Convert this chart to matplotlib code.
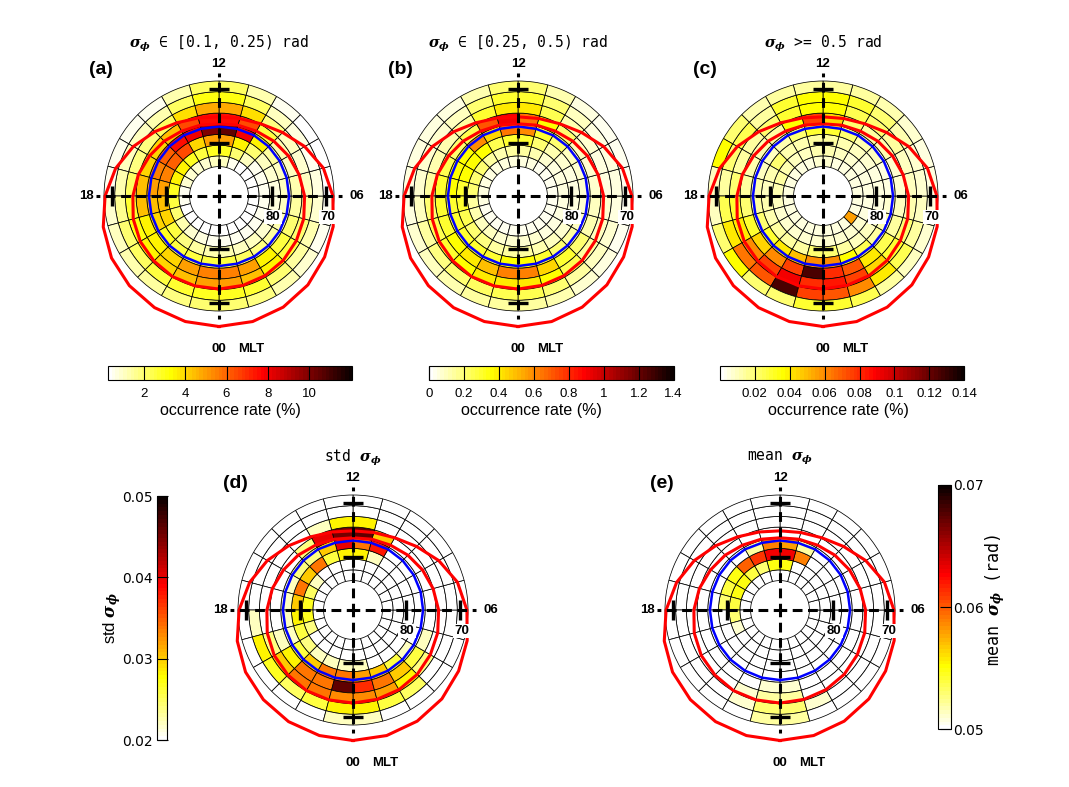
import numpy as np
import matplotlib.pyplot as plt
from matplotlib.colors import ListedColormap, Normalize
from matplotlib.cm import ScalarMappable

W, H = 1069, 787
plt.rcParams['mathtext.fontset'] = 'custom'
plt.rcParams['mathtext.it'] = 'DejaVu Serif:italic:bold'
plt.rcParams['mathtext.rm'] = 'DejaVu Serif'

# ---- grid: 8 rings of 2 deg MLat, 24 MLT hours ----
mlat_edges = [84.5, 82.5, 80.5, 78.5, 76.5, 74.5, 72.5, 70.5, 68.5]
mlt_hours = np.arange(24)

# occurrence rate (%) for 0.1 <= sigma < 0.25, ring 0 = poleward, columns = MLT 0..23
occ_a = [
    [0.3, 0.3, 0.3, 0.3, 0.3, 0.3, 0.3, 0.3, 0.3, 0.4, 0.6, 1.0, 1.0, 0.8, 0.8, 0.8, 0.8, 0.6, 0.5, 0.4, 0.3, 0.3, 0.3, 0.3],
    [0.6, 0.6, 0.5, 0.5, 0.5, 0.5, 0.5, 0.5, 0.6, 1.0, 2.0, 3.0, 3.0, 2.5, 3.0, 3.5, 3.5, 3.0, 2.5, 2.0, 1.2, 0.8, 0.7, 0.6],
    [1.2, 1.0, 1.0, 0.8, 0.8, 0.7, 0.7, 0.8, 1.0, 2.0, 3.5, 5.0, 5.0, 4.0, 6.5, 6.0, 5.5, 5.0, 4.5, 4.0, 2.5, 1.8, 1.5, 1.2],
    [2.5, 2.2, 1.8, 1.5, 1.2, 1.0, 1.0, 1.0, 1.5, 3.5, 8.0, 10.5, 10.0, 8.0, 7.5, 6.0, 5.5, 5.0, 4.5, 4.0, 3.0, 2.5, 2.5, 2.5],
    [5.5, 5.0, 3.5, 2.5, 2.0, 1.5, 1.2, 1.0, 1.2, 2.5, 6.5, 7.5, 7.5, 6.5, 4.5, 4.0, 4.0, 4.5, 4.5, 3.5, 3.5, 4.0, 5.0, 5.5],
    [5.0, 4.5, 3.5, 2.5, 2.0, 1.5, 1.0, 0.9, 1.0, 1.8, 3.8, 4.8, 4.8, 3.8, 2.2, 1.8, 1.8, 2.2, 2.8, 3.2, 3.5, 4.0, 4.5, 5.0],
    [3.0, 2.8, 2.0, 1.5, 1.2, 0.9, 0.7, 0.6, 0.7, 1.0, 2.2, 3.2, 3.2, 2.2, 1.2, 1.0, 1.0, 1.2, 1.6, 2.0, 2.2, 2.6, 2.8, 3.0],
    [2.0, 1.8, 1.2, 0.8, 0.6, 0.5, 0.4, 0.4, 0.4, 0.6, 1.2, 2.2, 2.2, 1.2, 0.6, 0.5, 0.5, 0.6, 0.8, 1.0, 1.2, 1.4, 1.8, 2.0],
]
# occurrence rate (%) for 0.25 <= sigma < 0.5
occ_b = [
    [0.04, 0.04, 0.04, 0.04, 0.04, 0.04, 0.04, 0.04, 0.04, 0.04, 0.05, 0.06, 0.06, 0.05, 0.05, 0.06, 0.06, 0.05, 0.05, 0.04, 0.04, 0.04, 0.04, 0.04],
    [0.08, 0.07, 0.06, 0.05, 0.05, 0.05, 0.05, 0.05, 0.06, 0.08, 0.12, 0.15, 0.15, 0.12, 0.15, 0.2, 0.2, 0.2, 0.15, 0.12, 0.1, 0.1, 0.08, 0.08],
    [0.15, 0.12, 0.1, 0.08, 0.07, 0.06, 0.06, 0.06, 0.08, 0.12, 0.2, 0.3, 0.3, 0.25, 0.35, 0.35, 0.35, 0.3, 0.3, 0.25, 0.2, 0.18, 0.15, 0.15],
    [0.35, 0.3, 0.2, 0.15, 0.1, 0.08, 0.07, 0.07, 0.1, 0.2, 0.3, 0.6, 0.65, 0.45, 0.6, 0.35, 0.35, 0.35, 0.3, 0.3, 0.3, 0.3, 0.3, 0.35],
    [0.62, 0.45, 0.3, 0.2, 0.12, 0.1, 0.08, 0.08, 0.1, 0.2, 0.35, 0.65, 0.9, 0.7, 0.25, 0.2, 0.25, 0.3, 0.3, 0.3, 0.35, 0.4, 0.5, 0.62],
    [0.4, 0.35, 0.25, 0.15, 0.1, 0.08, 0.06, 0.06, 0.08, 0.12, 0.25, 0.4, 0.4, 0.3, 0.15, 0.12, 0.12, 0.15, 0.2, 0.25, 0.3, 0.35, 0.4, 0.4],
    [0.25, 0.2, 0.15, 0.1, 0.08, 0.06, 0.05, 0.05, 0.06, 0.1, 0.2, 0.3, 0.3, 0.2, 0.1, 0.08, 0.08, 0.08, 0.1, 0.15, 0.18, 0.2, 0.22, 0.25],
    [0.15, 0.12, 0.08, 0.05, 0.04, 0.03, 0.03, 0.03, 0.04, 0.06, 0.12, 0.2, 0.2, 0.12, 0.06, 0.05, 0.05, 0.05, 0.06, 0.08, 0.1, 0.12, 0.15, 0.15],
]
# occurrence rate (%) for sigma >= 0.5
occ_c = [
    [0.005, 0.005, 0.005, 0.055, 0.005, 0.005, 0.005, 0.005, 0.005, 0.005, 0.005, 0.008, 0.008, 0.005, 0.005, 0.005, 0.005, 0.005, 0.005, 0.005, 0.005, 0.005, 0.005, 0.005],
    [0.008, 0.008, 0.008, 0.008, 0.006, 0.005, 0.005, 0.005, 0.006, 0.008, 0.01, 0.012, 0.012, 0.01, 0.01, 0.012, 0.015, 0.012, 0.01, 0.008, 0.008, 0.008, 0.008, 0.008],
    [0.02, 0.015, 0.01, 0.01, 0.008, 0.006, 0.005, 0.005, 0.008, 0.01, 0.012, 0.015, 0.015, 0.012, 0.012, 0.02, 0.012, 0.01, 0.012, 0.012, 0.015, 0.015, 0.015, 0.02],
    [0.06, 0.035, 0.025, 0.015, 0.012, 0.008, 0.006, 0.006, 0.01, 0.012, 0.02, 0.03, 0.03, 0.02, 0.012, 0.01, 0.01, 0.012, 0.015, 0.02, 0.03, 0.04, 0.05, 0.06],
    [0.08, 0.07, 0.04, 0.025, 0.015, 0.01, 0.008, 0.008, 0.012, 0.015, 0.02, 0.045, 0.075, 0.035, 0.015, 0.012, 0.012, 0.015, 0.02, 0.03, 0.045, 0.06, 0.075, 0.125],
    [0.085, 0.075, 0.045, 0.03, 0.02, 0.012, 0.01, 0.01, 0.015, 0.02, 0.025, 0.035, 0.035, 0.03, 0.02, 0.015, 0.015, 0.02, 0.03, 0.04, 0.06, 0.075, 0.09, 0.08],
    [0.07, 0.06, 0.04, 0.025, 0.015, 0.01, 0.008, 0.008, 0.012, 0.02, 0.03, 0.035, 0.035, 0.03, 0.015, 0.025, 0.02, 0.015, 0.025, 0.04, 0.065, 0.07, 0.125, 0.075],
    [0.03, 0.025, 0.015, 0.01, 0.008, 0.006, 0.005, 0.005, 0.008, 0.012, 0.015, 0.015, 0.015, 0.015, 0.012, 0.02, 0.035, 0.01, 0.01, 0.02, 0.035, 0.02, 0.02, 0.03],
]
# std of sigma_phi
std_d = [
    [0.018, 0.018, 0.018, 0.018, 0.018, 0.018, 0.018, 0.018, 0.018, 0.018, 0.018, 0.018, 0.018, 0.018, 0.018, 0.018, 0.018, 0.018, 0.018, 0.018, 0.018, 0.018, 0.018, 0.018],
    [0.018, 0.018, 0.018, 0.018, 0.018, 0.018, 0.018, 0.018, 0.018, 0.018, 0.018, 0.02, 0.02, 0.018, 0.02, 0.022, 0.025, 0.027, 0.027, 0.024, 0.02, 0.018, 0.018, 0.018],
    [0.022, 0.02, 0.02, 0.018, 0.018, 0.018, 0.018, 0.018, 0.018, 0.018, 0.022, 0.028, 0.028, 0.026, 0.034, 0.03, 0.034, 0.03, 0.028, 0.026, 0.024, 0.022, 0.022, 0.022],
    [0.032, 0.03, 0.026, 0.022, 0.02, 0.018, 0.018, 0.018, 0.018, 0.02, 0.038, 0.034, 0.04, 0.03, 0.024, 0.024, 0.022, 0.022, 0.022, 0.022, 0.026, 0.03, 0.034, 0.034],
    [0.037, 0.034, 0.03, 0.026, 0.022, 0.018, 0.018, 0.018, 0.018, 0.02, 0.03, 0.046, 0.045, 0.04, 0.024, 0.02, 0.018, 0.018, 0.02, 0.022, 0.028, 0.034, 0.034, 0.046],
    [0.033, 0.032, 0.028, 0.024, 0.02, 0.018, 0.018, 0.018, 0.018, 0.018, 0.02, 0.028, 0.028, 0.022, 0.02, 0.018, 0.018, 0.018, 0.02, 0.024, 0.03, 0.034, 0.034, 0.033],
    [0.028, 0.026, 0.025, 0.02, 0.018, 0.018, 0.018, 0.018, 0.018, 0.018, 0.018, 0.018, 0.018, 0.018, 0.018, 0.018, 0.018, 0.02, 0.022, 0.028, 0.027, 0.025, 0.026, 0.028],
    [0.022, 0.018, 0.018, 0.018, 0.018, 0.018, 0.018, 0.018, 0.018, 0.018, 0.018, 0.018, 0.018, 0.018, 0.018, 0.018, 0.018, 0.018, 0.018, 0.018, 0.02, 0.018, 0.018, 0.022],
]
# mean of sigma_phi (rad)
mean_e = [
    [0.048, 0.048, 0.048, 0.048, 0.048, 0.048, 0.048, 0.048, 0.048, 0.048, 0.048, 0.048, 0.048, 0.048, 0.048, 0.048, 0.048, 0.048, 0.048, 0.048, 0.048, 0.048, 0.048, 0.048],
    [0.048, 0.048, 0.048, 0.048, 0.048, 0.048, 0.048, 0.048, 0.048, 0.048, 0.048, 0.055, 0.055, 0.053, 0.054, 0.055, 0.055, 0.054, 0.053, 0.051, 0.048, 0.048, 0.048, 0.048],
    [0.048, 0.048, 0.048, 0.048, 0.048, 0.048, 0.048, 0.048, 0.048, 0.048, 0.059, 0.063, 0.063, 0.061, 0.06, 0.055, 0.054, 0.053, 0.048, 0.048, 0.048, 0.048, 0.048, 0.048],
    [0.048, 0.048, 0.048, 0.048, 0.048, 0.048, 0.048, 0.048, 0.048, 0.048, 0.052, 0.058, 0.059, 0.052, 0.048, 0.048, 0.048, 0.048, 0.048, 0.048, 0.048, 0.048, 0.048, 0.048],
    [0.051, 0.048, 0.048, 0.048, 0.048, 0.048, 0.048, 0.048, 0.048, 0.048, 0.048, 0.048, 0.048, 0.048, 0.048, 0.048, 0.048, 0.048, 0.048, 0.048, 0.048, 0.048, 0.048, 0.051],
    [0.052, 0.048, 0.048, 0.048, 0.048, 0.048, 0.048, 0.048, 0.048, 0.048, 0.048, 0.048, 0.048, 0.048, 0.048, 0.048, 0.048, 0.048, 0.048, 0.048, 0.048, 0.048, 0.051, 0.052],
    [0.053, 0.051, 0.048, 0.048, 0.048, 0.048, 0.048, 0.048, 0.048, 0.048, 0.048, 0.048, 0.048, 0.048, 0.048, 0.048, 0.048, 0.048, 0.048, 0.048, 0.048, 0.048, 0.051, 0.053],
    [0.052, 0.048, 0.048, 0.048, 0.048, 0.048, 0.048, 0.048, 0.048, 0.048, 0.048, 0.048, 0.048, 0.048, 0.048, 0.048, 0.048, 0.048, 0.048, 0.048, 0.048, 0.048, 0.048, 0.052],
]

# auroral oval boundaries (MLat) and reference circle, one value per MLT hour
oval_mlt = np.arange(25)
oval_equator = [65.6, 65.7, 66.0, 66.5, 67.2, 67.9, 68.7, 69.8, 71.5, 73.2, 74.4, 75.0,
                75.2, 74.9, 74.2, 73.0, 71.5, 70.0, 68.7, 67.6, 66.8, 66.3, 65.9, 65.7, 65.6]
oval_pole = [72.6, 72.7, 72.8, 73.0, 73.3, 73.6, 74.0, 74.5, 75.0, 75.5, 76.0, 76.3,
             76.5, 76.3, 76.0, 75.5, 75.0, 74.4, 73.9, 73.4, 73.0, 72.8, 72.6, 72.6, 72.6]
blue_circle = [76.9, 76.9, 76.9, 76.9, 76.9, 76.9, 76.9, 76.9, 76.9, 76.9, 76.9, 77.0,
               77.0, 77.0, 76.9, 76.9, 76.9, 76.9, 76.9, 76.9, 76.9, 76.9, 76.9, 76.9, 76.9]


def matlab_hot_r(m=64):
    n = int(3 / 8 * m)
    r = np.r_[np.arange(1, n + 1) / n, np.ones(m - n)]
    g = np.r_[np.zeros(n), np.arange(1, n + 1) / n, np.ones(m - 2 * n)]
    b = np.r_[np.zeros(2 * n), np.arange(1, m - 2 * n + 1) / (m - 2 * n)]
    return ListedColormap(np.c_[r, g, b][::-1])


cmap = matlab_hot_r()
fig = plt.figure(figsize=(W / 100, H / 100), dpi=100)

PXDEG = 115 / 21.5      # pixels per degree of colatitude
RMAX = 27.0
RAX = RMAX * PXDEG
MONO = 'DejaVu Sans Mono'


def ftext(px, py, s, **kw):
    fig.text(px / W, 1 - py / H, s, **kw)


def colat(m):
    return 90 - np.asarray(m, dtype=float)


def dial(cx, cy, grid, vmin, vmax, letter, title):
    ax = fig.add_axes([(cx - RAX) / W, 1 - (cy + RAX) / H, 2 * RAX / W, 2 * RAX / H],
                      projection='polar')
    ax.set_theta_zero_location('S')
    ax.set_ylim(0, RMAX)
    ax.axis('off')
    norm = Normalize(vmin, vmax)
    th = (mlt_hours + 0.5) * 2 * np.pi / 24
    for k, ring in enumerate(grid):
        r0 = colat(mlat_edges[k])
        ax.bar(th, colat(mlat_edges[k + 1]) - r0, width=2 * np.pi / 24, bottom=r0,
               color=cmap(norm(np.clip(ring, vmin, vmax))), edgecolor='k', linewidth=0.55, zorder=1)
    t = oval_mlt * 2 * np.pi / 24
    ax.plot(t, colat(blue_circle), color='#0000ff', lw=1.8, zorder=3)
    ax.plot(t, colat(oval_pole), color='#ff0000', lw=2.2, zorder=3)
    ax.plot(t, colat(oval_equator), color='#ff0000', lw=2.2, zorder=3)
    # dashed cross with ticks at 80 and 70 deg
    for a in [0, np.pi / 2, np.pi, 3 * np.pi / 2]:
        ax.plot([a, a], [0, 23.0], color='k', lw=2.2, ls=(1, (3.2, 1.8)), zorder=4)
        for rr in [10, 20]:
            d = 1.9
            ax.plot([a - np.arctan(d / rr), a + np.arctan(d / rr)], [np.hypot(rr, d)] * 2,
                    color='k', lw=2.4, zorder=4, solid_capstyle='butt')
    lab = dict(fontsize=9.5, fontweight='bold', family='Liberation Sans', ha='center', va='center')
    ftext(cx, cy - 132, '12', **lab)
    ftext(cx + 138, cy, '06', **lab)
    ftext(cx - 133, cy, '18', **lab)
    ftext(cx, cy + 153, '00', **lab)
    ftext(cx + 32, cy + 153, 'MLT', **lab)
    box = dict(facecolor='white', edgecolor='none', pad=1.0)
    ftext(cx + 54, cy + 21, '80', bbox=box, zorder=6, **lab)
    ftext(cx + 109, cy + 21, '70', bbox=box, zorder=6, **lab)
    ftext(cx - 130, cy - 126, letter, fontsize=14, fontweight='bold', family='Liberation Sans',
          ha='left', va='center')
    ftext(cx, cy - 152, title, fontsize=10.5, family=MONO, ha='center', va='center')
    return norm


sig = r'$\sigma_{\phi}$'
n_a = dial(219, 196, occ_a, 0.24, 12.1, '(a)', sig + ' \u2208 [0.1, 0.25) rad')
n_b = dial(518, 196, occ_b, 0.0, 1.4, '(b)', sig + ' \u2208 [0.25, 0.5) rad')
n_c = dial(823, 196, occ_c, 0.0, 0.14, '(c)', sig + ' >= 0.5 rad')
n_d = dial(353, 610, std_d, 0.02, 0.05, '(d)', 'std ' + sig)
n_e = dial(780, 610, mean_e, 0.05, 0.07, '(e)', 'mean ' + sig)


def hbar(x0, x1, norm, ticks, labels, lab_x):
    cax = fig.add_axes([x0 / W, 1 - 380 / H, (x1 - x0) / W, 14 / H])
    cb = fig.colorbar(ScalarMappable(norm, cmap), cax=cax, orientation='horizontal')
    cb.set_ticks(ticks, labels=labels)
    cb.outline.set_linewidth(0.8)
    cax.tick_params(direction='in', length=10, width=0.8, labelsize=9.5, pad=6)
    for t in cax.get_xticklabels():
        t.set_family('Liberation Sans')
    ftext(lab_x, 410, 'occurrence rate (%)', fontsize=11.5, family='Liberation Sans',
          ha='center', va='center')


hbar(107.7, 352.4, n_a, [2, 4, 6, 8, 10], ['2', '4', '6', '8', '10'], 230)
hbar(429, 673.7, n_b, [0, 0.2, 0.4, 0.6, 0.8, 1.0, 1.2, 1.4],
     ['0', '0.2', '0.4', '0.6', '0.8', '1', '1.2', '1.4'], 531)
hbar(719.7, 964.4, n_c, [0.02, 0.04, 0.06, 0.08, 0.1, 0.12, 0.14],
     ['0.02', '0.04', '0.06', '0.08', '0.1', '0.12', '0.14'], 838)

# vertical colorbars
cax_d = fig.add_axes([156.7 / W, 1 - 740 / H, 10.6 / W, 244 / H])
cb_d = fig.colorbar(ScalarMappable(n_d, cmap), cax=cax_d)
cb_d.set_ticks([0.02, 0.03, 0.04, 0.05], labels=['0.02', '0.03', '0.04', '0.05'])
cax_d.yaxis.set_ticks_position('left')
cax_d.tick_params(direction='in', length=8, width=0.8, labelsize=10, pad=3)
cb_d.outline.set_linewidth(0.8)
ftext(112, 618, 'std ' + sig, fontsize=12, family='Liberation Sans', rotation=90,
      ha='center', va='center')

cax_e = fig.add_axes([938.3 / W, 1 - 729.3 / H, 12.4 / W, 244.3 / H])
cb_e = fig.colorbar(ScalarMappable(n_e, cmap), cax=cax_e)
cb_e.set_ticks([0.05, 0.06, 0.07], labels=['0.05', '0.06', '0.07'])
cax_e.tick_params(direction='in', length=8, width=0.8, labelsize=10, pad=2)
cb_e.outline.set_linewidth(0.8)
ftext(995, 600, 'mean ' + sig + ' (rad)', fontsize=12, family=MONO, rotation=90,
      ha='center', va='center')

fig.savefig('out.png', dpi=100)
